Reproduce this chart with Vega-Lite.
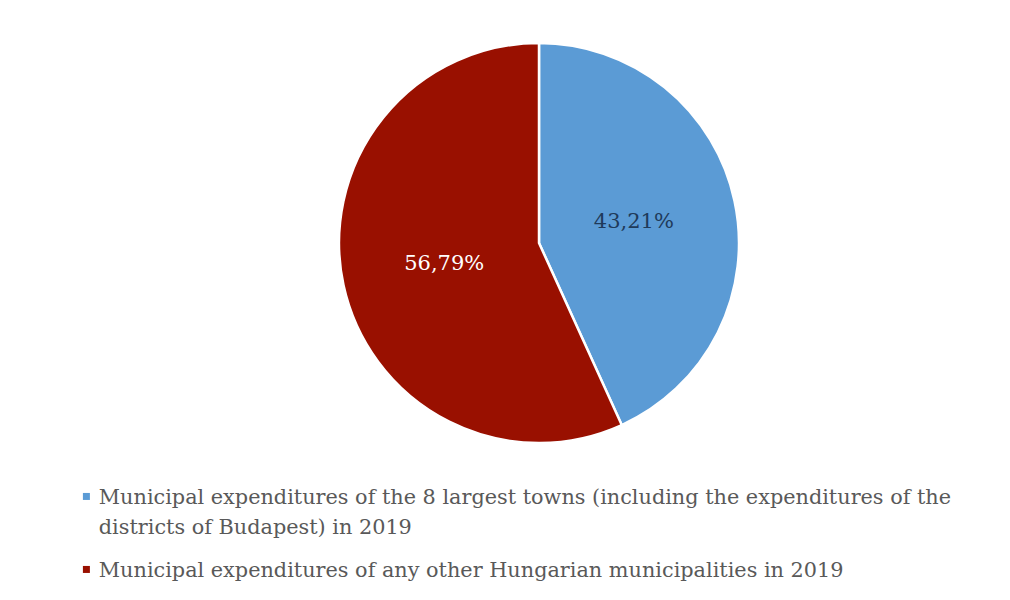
{
  "$schema": "https://vega.github.io/schema/vega-lite/v6.json",
  "width": 400,
  "height": 400,
  "autosize": "none",
  "padding": {"left": 339, "top": 43, "right": 271, "bottom": 157},
  "background": "white",
  "config": {"view": {"stroke": null}, "style": {"guide-label": {"lineHeight": 30}}},
  "data": {
    "values": [
      {"category": "Municipal expenditures of the 8 largest towns (including the expenditures of the|districts of Budapest) in 2019", "share": 43.21, "label": "43,21%", "order": 1},
      {"category": "Municipal expenditures of any other Hungarian municipalities in 2019", "share": 56.79, "label": "56,79%", "order": 2}
    ]
  },
  "encoding": {
    "theta": {"field": "share", "type": "quantitative", "stack": true},
    "order": {"field": "order", "type": "quantitative"}
  },
  "layer": [
    {
      "mark": {"type": "arc", "outerRadius": 200, "stroke": "white", "strokeWidth": 2.5},
      "encoding": {
        "color": {
          "field": "category",
          "type": "nominal",
          "scale": {
            "domain": [
              "Municipal expenditures of the 8 largest towns (including the expenditures of the|districts of Budapest) in 2019",
              "Municipal expenditures of any other Hungarian municipalities in 2019"
            ],
            "range": ["#5B9BD5", "#991000"]
          },
          "legend": {
            "title": null,
            "orient": "none",
            "legendX": -263,
            "legendY": 435,
            "direction": "vertical",
            "symbolType": "M-1,1.3H1V3.3H-1Z",
            "symbolSize": 49,
            "symbolStrokeWidth": 0,
            "labelFont": "DejaVu Serif",
            "labelFontSize": 20.8,
            "labelColor": "#595959",
            "labelLimit": 2000,
            "labelOffset": 2,
            "labelBaseline": "top",
            "labelExpr": "split(datum.label, '|')",
            "rowPadding": 12
          }
        }
      }
    },
    {
      "mark": {"type": "text", "radius": 97, "font": "DejaVu Serif", "fontSize": 21},
      "encoding": {
        "text": {"field": "label"},
        "color": {
          "condition": {"test": "datum.order == 1", "value": "#1F3A5A"},
          "value": "#FFFFFF"
        }
      }
    }
  ]
}
